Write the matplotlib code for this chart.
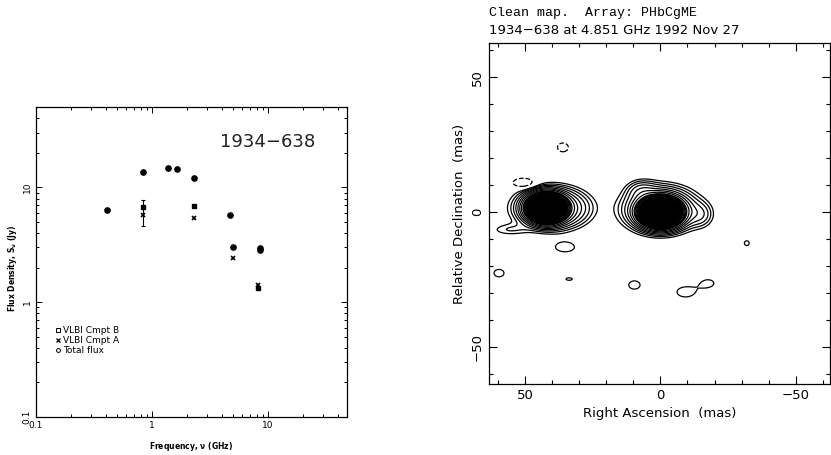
import numpy as np
import matplotlib
matplotlib.use("Agg")
import matplotlib.pyplot as plt
from matplotlib.ticker import FixedLocator, NullFormatter, MultipleLocator

############################################
#                  DATA                    #
############################################

# spectrum of 1934-638 (GHz, Jy)
total_freq = [0.41, 0.84, 1.39, 1.64, 2.32, 4.75, 5.0, 8.5, 8.6]
total_flux = [6.3, 13.7, 14.9, 14.4, 12.0, 5.8, 3.05, 2.97, 2.85]

cmptB_freq = [0.84, 2.29, 8.3]
cmptB_flux = [6.7, 6.9, 1.32]
cmptB_err_lo = [2.1, 0.0, 0.0]
cmptB_err_hi = [1.0, 0.0, 0.0]

cmptA_freq = [0.84, 2.29, 5.0, 8.3]
cmptA_flux = [5.7, 5.4, 2.43, 1.40]

# clean map model components (mas, relative peak %)
comp_ra   = [42, 40, 56, 0, 0, 7, -15, 35.2, 59.6, 33.7, 9.6, -9.3, -17.8, -31.9, 36, 50.4]
comp_dec  = [1.5, 1.5, -6.5, 0, 1, 8, -1, -13, -22.6, -24.8, -27, -29.6, -26.3, -11.5, 24, 10.8]
comp_peak = [100, 5, 0.55, 100, 5, 1.0, 0.8, 0.55, 0.55, 0.43, 0.55, 0.51, 0.46, 0.44, -0.6, -1.0]
comp_sx   = [3.3, 7.3, 5.0, 3.6, 7.5, 3.5, 3.0, 4.2, 2.3, 3.0, 2.6, 4.5, 3.2, 2.0, 2.2, 3.2]
comp_sy   = [2.4, 4.2, 1.6, 2.5, 4.6, 2.5, 3.0, 2.1, 1.7, 1.2, 1.9, 2.6, 2.0, 2.0, 1.8, 1.4]

contour_levels = [-0.4, 0.4, 0.6, 0.85, 1.2, 1.7, 2.4, 3.4, 4.8, 5.6, 6.6, 7.8, 9.2, 11,
                  13, 15, 18, 21, 25, 29, 34, 40, 47, 55, 64, 74, 85, 92, 98]

############################################
#                 FIGURE                   #
############################################

fig = plt.figure(figsize=(8.31, 4.55), dpi=100)

# ---------- spectrum ----------
ax1 = fig.add_axes([0.0433, 0.0835, 0.374, 0.681])
ax1.set_xscale('log')
ax1.set_yscale('log')
ax1.set_xlim(0.1, 48)
ax1.set_ylim(0.1, 50)

ax1.errorbar(cmptB_freq, cmptB_flux, yerr=[cmptB_err_lo, cmptB_err_hi], fmt='s', ms=2.6,
             color='k', mfc='k', elinewidth=0.8, capsize=1.5, capthick=0.8, label='VLBI Cmpt B')
ax1.plot(cmptA_freq, cmptA_flux, 'x', ms=2.5, mew=1.2, color='k', label='VLBI Cmpt A')
ax1.plot(total_freq, total_flux, 'o', ms=3.8, color='k', label='Total flux')

ax1.text(0.897, 0.887, '1934\u2212638', transform=ax1.transAxes, fontsize=13,
         ha='right', va='center', color='#222222')

# legend with hollow markers like the original
hB, = ax1.plot([], [], 's', ms=2.5, mfc='none', mec='k', mew=0.7)
hA, = ax1.plot([], [], 'x', ms=2.2, mec='k', mew=0.9)
hT, = ax1.plot([], [], 'o', ms=2.8, mfc='none', mec='k', mew=0.7)
ax1.legend([hB, hA, hT], ['VLBI Cmpt B', 'VLBI Cmpt A', 'Total flux'],
           loc='lower left', bbox_to_anchor=(0.045, 0.18), frameon=False,
           fontsize=6.5, handlelength=0.4, handletextpad=0.3, labelspacing=0.1,
           borderpad=0.2)

ax1.set_xlabel(r'Frequency, $\mathbf{\nu}$ (GHz)', fontsize=5.5, fontweight='bold')
ax1.set_ylabel(r'Flux Density, S$_\mathbf{\nu}$ (Jy)', fontsize=5.5, fontweight='bold')
ax1.xaxis.set_label_coords(0.5, -0.075)
ax1.yaxis.set_label_coords(-0.055, 0.48)

ax1.xaxis.set_major_locator(FixedLocator([0.1, 1, 10]))
ax1.yaxis.set_major_locator(FixedLocator([0.1, 1, 10]))
ax1.set_xticklabels(['0.1', '1', '10'])
ax1.set_yticklabels(['0.1', '1', '10'], rotation=90, va='center')
ax1.xaxis.set_minor_formatter(NullFormatter())
ax1.yaxis.set_minor_formatter(NullFormatter())
ax1.tick_params(which='both', direction='in', top=True, right=True, labelsize=6.5, width=0.7, pad=3)
ax1.tick_params(which='major', length=4)
ax1.tick_params(which='minor', length=2)
for s in ax1.spines.values():
    s.set_linewidth(0.9)

# ---------- clean map ----------
ax2 = fig.add_axes([0.5884, 0.156, 0.4103, 0.749])
ra = np.linspace(-64, 64, 700)
dec = np.linspace(-64, 64, 700)
RA, DEC = np.meshgrid(ra, dec)
image = np.zeros_like(RA)
for x0, y0, p, sx, sy in zip(comp_ra, comp_dec, comp_peak, comp_sx, comp_sy):
    image += p * np.exp(-0.5 * (((RA - x0) / sx) ** 2 + ((DEC - y0) / sy) ** 2))

pos_levels = [l for l in contour_levels if l > 0]
neg_levels = [l for l in contour_levels if l < 0]
ax2.contour(RA, DEC, image, levels=pos_levels, colors='k', linewidths=0.9)
ax2.contour(RA, DEC, image, levels=neg_levels, colors='k', linewidths=0.9, linestyles='--')
# the innermost contours run together into a solid black core
ax2.contourf(RA, DEC, image, levels=[pos_levels[12], image.max() + 1], colors='k')

ax2.set_xlim(63.3, -62.6)
ax2.set_ylim(-63.7, 62.6)
ax2.xaxis.set_major_locator(MultipleLocator(50))
ax2.yaxis.set_major_locator(MultipleLocator(50))
ax2.xaxis.set_minor_locator(MultipleLocator(10))
ax2.yaxis.set_minor_locator(MultipleLocator(10))
ax2.tick_params(which='both', direction='in', top=True, right=True, labelsize=9.5, width=0.8)
ax2.tick_params(which='major', length=6)
ax2.tick_params(which='minor', length=3)
for lab in ax2.get_yticklabels():
    lab.set_rotation(90)
    lab.set_va('center')
ax2.set_xlabel('Right Ascension  (mas)', fontsize=9.5)
ax2.set_ylabel('Relative Declination  (mas)', fontsize=9.5)
for s in ax2.spines.values():
    s.set_linewidth(0.9)

fig.text(489 / 831, 1 - 13 / 455, 'Clean map.  Array: PHbCgME', fontsize=9.5,
         family='Liberation Mono', ha='left', va='center')
fig.text(489 / 831, 1 - 30 / 455, '1934\u2212638 at 4.851 GHz 1992 Nov 27', fontsize=9.5,
         ha='left', va='center')

plt.savefig("out.png", dpi=100)
